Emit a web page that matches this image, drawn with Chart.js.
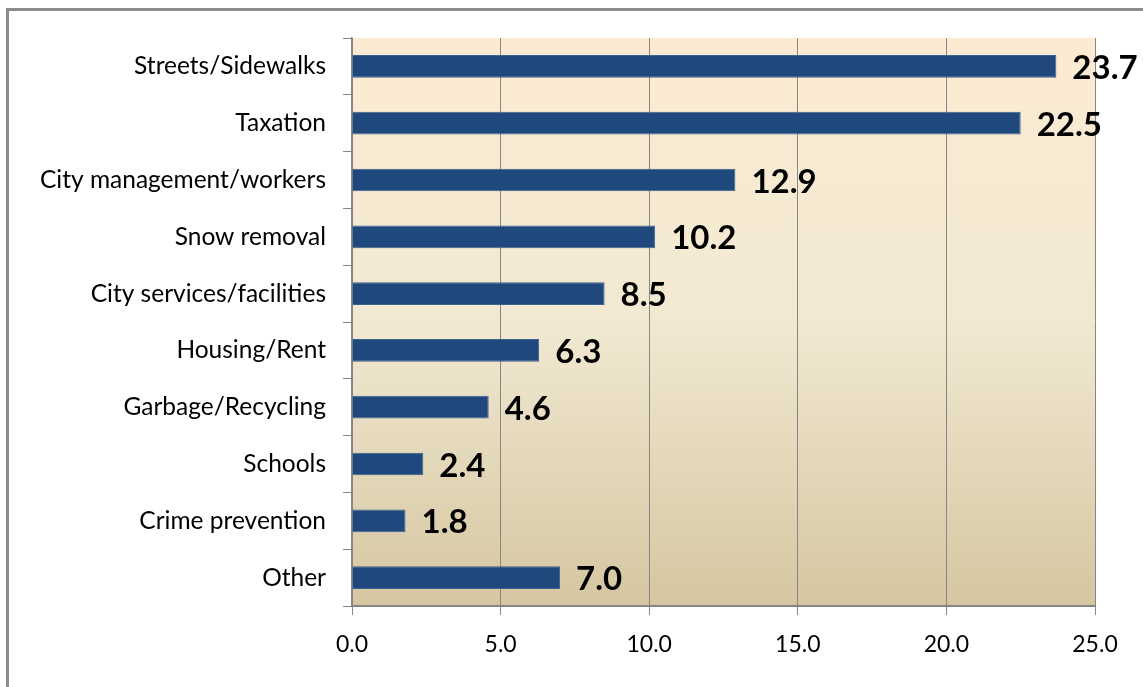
<!DOCTYPE html>
<html>
<head>
<meta charset="utf-8">
<script src="https://cdn.jsdelivr.net/npm/chart.js@4"></script>
<style>
  html, body { margin:0; padding:0; background:#fff; overflow:hidden; }
  #wrap { position:relative; width:1143px; height:687px; }
  #frame { position:absolute; left:6px; top:8px; width:1200px; height:700px; border:3px solid #8c8c8c; box-sizing:border-box; }
  canvas { position:absolute; left:0; top:0; }
</style>
</head>
<body>
<div id="wrap">
  <div id="frame"></div>
  <canvas id="chart" width="1143" height="687"></canvas>
</div>
<script>
const categories = [
  "Streets/Sidewalks", "Taxation", "City management/workers", "Snow removal",
  "City services/facilities", "Housing/Rent", "Garbage/Recycling", "Schools",
  "Crime prevention", "Other"
];
const values = [23.7, 22.5, 12.9, 10.2, 8.5, 6.3, 4.6, 2.4, 1.8, 7.0];
const xTicks = [0, 5, 10, 15, 20, 25];

const FONT = "Lato, 'Open Sans', sans-serif";

// gradient fill behind the plot area
const plotBg = {
  id: "plotBg",
  beforeDraw(chart){
    const {ctx, chartArea:a} = chart;
    const g = ctx.createLinearGradient(0, a.top, 0, a.bottom);
    g.addColorStop(0, "#fcebd2");
    g.addColorStop(0.5, "#f2e9d3");
    g.addColorStop(1, "#d5c6a0");
    ctx.save();
    ctx.fillStyle = g;
    ctx.fillRect(a.left, a.top, a.right - a.left, a.bottom - a.top);
    ctx.restore();
  }
};

// bold value labels to the right of each bar
const valueLabels = {
  id: "valueLabels",
  afterDatasetsDraw(chart){
    const ctx = chart.ctx;
    const meta = chart.getDatasetMeta(0);
    ctx.save();
    ctx.font = "bold 33px " + FONT;
    ctx.fillStyle = "#000";
    ctx.textAlign = "left";
    ctx.textBaseline = "middle";
    meta.data.forEach((bar, i) => {
      ctx.fillText(values[i].toFixed(1), bar.x + 16, bar.y + 2);
    });
    ctx.restore();
  }
};

new Chart(document.getElementById("chart"), {
  type: "bar",
  data: {
    labels: categories,
    datasets: [{
      data: values,
      backgroundColor: "#1f497d",
      borderColor: "#3b6193",
      borderWidth: 1,
      barPercentage: 0.4,
      categoryPercentage: 1.0
    }]
  },
  options: {
    indexAxis: "y",
    responsive: false,
    animation: false,
    layout: { padding: { top: 38, right: 48, left: 0, bottom: 0 } },
    plugins: { legend: { display:false }, tooltip: { enabled:false } },
    scales: {
      x: {
        min: 0, max: 25,
        afterBuildTicks: (s) => { s.ticks = xTicks.map(v => ({value:v})); },
        afterFit: (s) => { s.height = 81; },
        ticks: { color:"#000", font:{ family:FONT, size:23 }, padding:16,
          callback: (v) => Number(v).toFixed(1) },
        grid: { color:"#868686", lineWidth:1, tickLength:9, drawTicks:true },
        border: { color:"#868686", width:2 }
      },
      y: {
        afterFit: (s) => { s.width = 352; },
        ticks: { color:"#000", font:{ family:FONT, size:24.5 }, padding:17 },
        grid: { drawOnChartArea:false, offset:true, color:"#868686", tickLength:9 },
        border: { color:"#868686", width:1.5 }
      }
    }
  },
  plugins: [plotBg, valueLabels]
});
</script>
</body>
</html>
